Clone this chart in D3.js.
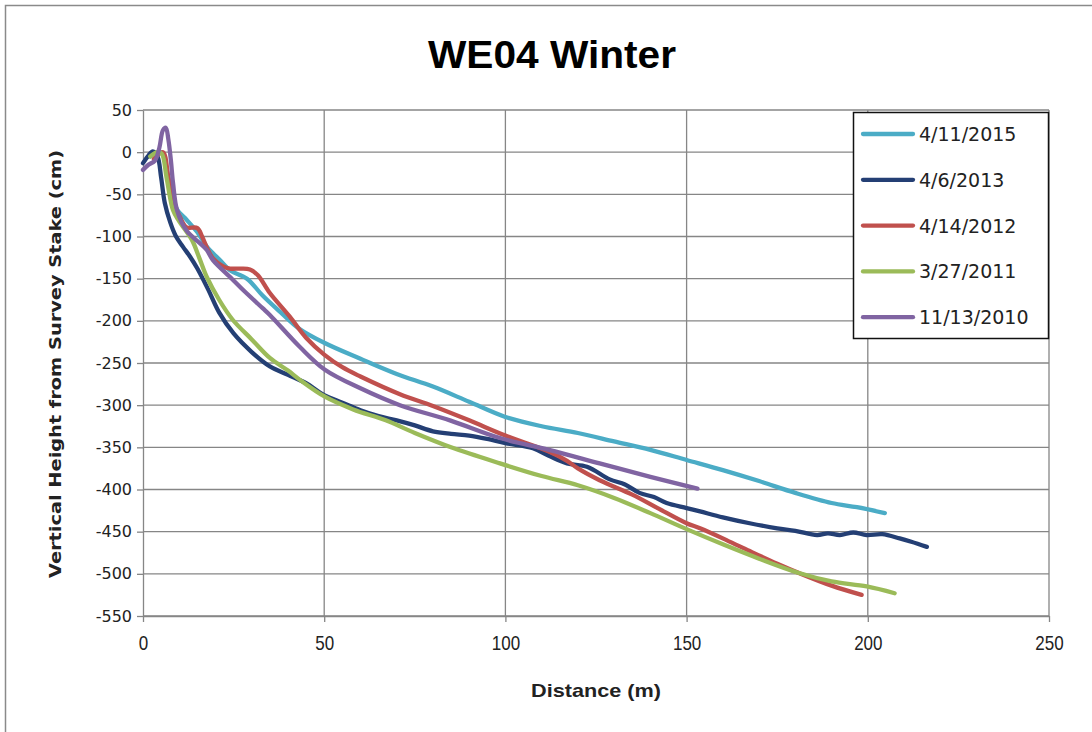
<!DOCTYPE html>
<html><head><meta charset="utf-8">
<script src="https://cdn.jsdelivr.net/npm/d3@7"></script>
<style>body{margin:0;background:#fff} svg{display:block}</style>
</head><body><svg id="c" width="1092" height="732"></svg>
<script>
const chartTitle = "WE04 Winter";
const xTitle = "Distance (m)";
const yTitle = "Vertical Height from Survey Stake (cm)";
const xTicks = [0, 50, 100, 150, 200, 250];
const yTicks = [50, 0, -50, -100, -150, -200, -250, -300, -350, -400, -450, -500, -550];
const seriesNames = ["4/11/2015", "4/6/2013", "4/14/2012", "3/27/2011", "11/13/2010"];
const seriesColors = ["#4BACC6", "#243F74", "#C0504D", "#9BBB59", "#8064A2"];

const s2015 = [[2,-5],[5,0],[7,-30],[9.4,-68],[12,-80],[15,-95],[17.6,-112],[21,-127],[24,-140],[28.7,-150],[33,-170],[38,-190],[43,-209],[50,-226],[60,-245],[70,-263],[80,-278],[90,-296],[100,-314],[110,-325],[120,-333],[130,-343],[140,-353],[150,-365],[160,-377],[170,-390],[180,-404],[190,-416],[197,-421],[204.7,-428]];
const s2013 = [[0,-13],[1.5,-4],[2.7,1],[4,-5],[5,-30],[6,-60],[7.5,-83],[9,-99],[11,-112],[13,-124],[15,-138],[18,-163],[21,-190],[25,-215],[30,-237],[35,-254],[40,-264],[45,-274],[50,-288],[55,-297],[60,-306],[65,-313],[70,-318],[75,-324],[80,-331],[85,-334],[90,-336],[95,-340],[100,-345],[107.6,-351],[112,-360],[117,-369],[122.5,-373],[128.8,-388],[133,-394],[137,-404],[141,-409],[144.5,-416],[150,-422],[153.7,-426],[160,-433],[167.4,-440],[175,-446],[180,-449],[186,-454],[189,-452],[192.3,-454],[196,-451],[199.7,-454],[204,-453],[208.8,-458],[212,-462],[216.3,-468]];
const s2012 = [[3,-8],[5.5,0],[7,-30],[8.5,-60],[10.2,-77],[12,-89],[15,-90],[16.3,-100],[17.5,-112],[19.3,-126],[22,-135],[24,-138],[27,-138],[29.5,-139],[31.7,-146],[35,-167],[40.5,-195],[45,-220],[50,-240],[55,-255],[60,-266],[70.9,-287],[80,-301],[90,-318],[100,-336],[112,-355],[117,-366],[120,-375],[126,-389],[135,-406],[142,-422],[150,-440],[153.7,-446],[161,-460],[167.4,-473],[175,-488],[181,-499],[190,-514],[198.3,-525]];
const s2011 = [[2,-5],[4,0],[5.2,-2],[6.5,-30],[8.3,-69],[10,-82],[13.5,-104],[15.5,-125],[17.6,-148],[21,-175],[24.8,-199],[30,-222],[35,-244],[40,-259],[43.3,-270],[50.2,-290],[58,-305],[67,-318],[75,-333],[85,-350],[98.5,-369],[110,-384],[120,-395],[130,-410],[140,-428],[150,-447],[160,-465],[170,-482],[181,-499],[190,-509],[199.7,-515],[207.4,-523]];
const s2010 = [[0,-21],[1.5,-15],[3.3,-10],[4.5,5],[5.5,26],[6.3,29],[7,15],[7.7,-10],[8.3,-37],[9.4,-69],[12,-93],[15.7,-108],[17.6,-116],[19.3,-128],[24.5,-150],[28,-165],[33,-185],[35,-193],[43.3,-231],[50.2,-258],[60,-280],[70.9,-300],[84.7,-318],[98.5,-339],[112,-353],[126,-369],[140,-385],[153,-399]];
const seriesData = [s2015, s2013, s2012, s2011, s2010];

const svg = d3.select("#c");
const x = d3.scaleLinear().domain([0, 250]).range([143, 1049]);
const y = d3.scaleLinear().domain([-550, 50]).range([616, 110]);

// outer chart border
svg.append("rect").attr("x", 5.5).attr("y", 5.5).attr("width", 1100).attr("height", 740)
  .attr("fill", "#fff").attr("stroke", "#8a8a8a").attr("stroke-width", 1.5);

// gridlines
const grid = svg.append("g");
grid.selectAll(".hg").data(yTicks).join("line")
  .attr("x1", x(0)).attr("x2", x(250)).attr("y1", d => y(d)).attr("y2", d => y(d))
  .attr("stroke", "#868686").attr("stroke-width", 1.3);
grid.selectAll(".vg").data(xTicks.slice(1)).join("line")
  .attr("y1", y(50)).attr("y2", y(-550)).attr("x1", d => x(d)).attr("x2", d => x(d))
  .attr("stroke", "#868686").attr("stroke-width", 1.3);

// axes
const fmt = d => String(d);
const yAxis = svg.append("g").attr("transform", `translate(${x(0)},0)`)
  .call(d3.axisLeft(y).tickValues(yTicks).tickFormat(fmt).tickSize(6).tickPadding(5).tickSizeOuter(0));
yAxis.selectAll("text").attr("font-family", "DejaVu Sans, Verdana, sans-serif").attr("font-size", 16).attr("fill", "#222");
const xAxis = svg.append("g").attr("transform", `translate(0,${y(-550)})`)
  .call(d3.axisBottom(x).tickValues(xTicks).tickFormat(fmt).tickSize(6).tickPadding(14).tickSizeOuter(0));
xAxis.selectAll(".tick text").attr("font-family", "Liberation Sans, Arial, sans-serif").attr("font-size", 20)
  .attr("fill", "#222").attr("transform", "scale(0.85,1)");
[yAxis, xAxis].forEach(a => {
  a.select(".domain").attr("stroke", "#868686").attr("stroke-width", 1.3);
  a.selectAll(".tick line").attr("stroke", "#868686").attr("stroke-width", 1.3);
});

// series lines
const line = d3.line().x(d => x(d[0])).y(d => y(d[1])).curve(d3.curveCatmullRom.alpha(0.5));
svg.append("g").selectAll("path").data(seriesData).join("path")
  .attr("d", line).attr("fill", "none")
  .attr("stroke", (d, i) => seriesColors[i]).attr("stroke-width", 4.3)
  .attr("stroke-linejoin", "round").attr("stroke-linecap", "round");

// title
svg.append("text").attr("x", 552).attr("y", 68).attr("text-anchor", "middle")
  .attr("font-family", "Liberation Sans, Arial, sans-serif").attr("font-weight", "bold")
  .attr("font-size", 38).attr("textLength", 248).attr("lengthAdjust", "spacingAndGlyphs")
  .text(chartTitle);
// axis titles
svg.append("text").attr("x", 596).attr("y", 697).attr("text-anchor", "middle")
  .attr("font-family", "Liberation Sans, Arial, sans-serif").attr("font-weight", "bold")
  .attr("font-size", 19).attr("fill", "#222")
  .attr("textLength", 130).attr("lengthAdjust", "spacingAndGlyphs").text(xTitle);
svg.append("text").attr("transform", `translate(61,364) rotate(-90)`).attr("text-anchor", "middle")
  .attr("font-family", "DejaVu Sans, Verdana, sans-serif").attr("font-weight", "bold")
  .attr("font-size", 16.5).attr("fill", "#222")
  .attr("textLength", 428).attr("lengthAdjust", "spacingAndGlyphs").text(yTitle);

// legend
const lg = svg.append("g");
lg.append("rect").attr("x", 853.5).attr("y", 112.5).attr("width", 195).attr("height", 226)
  .attr("fill", "#fff").attr("stroke", "#111").attr("stroke-width", 1.5);
const items = lg.selectAll(".it").data(seriesNames).join("g")
  .attr("transform", (d, i) => `translate(0,${134 + i * 45.8})`);
items.append("line").attr("x1", 863).attr("x2", 913).attr("y1", 0).attr("y2", 0)
  .attr("stroke", (d, i) => seriesColors[i]).attr("stroke-width", 4.3).attr("stroke-linecap", "round");
items.append("text").attr("x", 919).attr("y", 7).attr("font-family", "DejaVu Sans, Verdana, sans-serif")
  .attr("font-size", 19).attr("fill", "#222").text(d => d);
</script></body></html>
